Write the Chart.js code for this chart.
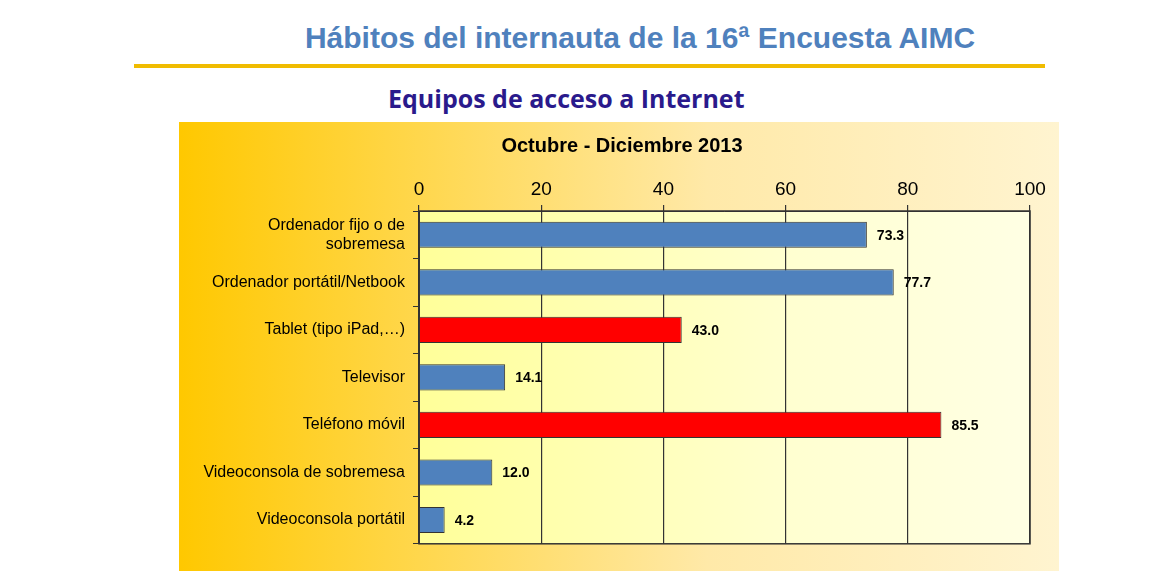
<!DOCTYPE html><html><head><meta charset="utf-8">
<script src="https://cdn.jsdelivr.net/npm/chart.js@4"></script>
<style>
body{margin:0;width:1172px;height:586px;background:#fff;position:relative;font-family:"Liberation Sans",Arial,sans-serif;overflow:hidden}
#t1{position:absolute;left:0;width:1280px;top:21px;text-align:center;font-size:30px;font-weight:bold;color:#4f81bd}
#line{position:absolute;left:134px;top:64px;width:911px;height:4px;background:#f0bc00}
#t2{position:absolute;left:388px;top:81px;font-size:25px;font-weight:bold;color:#2a1a8c;font-family:"Open Sans","Liberation Sans",sans-serif}
#panel{position:absolute;left:179px;top:122px;width:880px;height:449px;background:linear-gradient(to right,#ffc800,#ffe9a8 60%,#fff4d0)}
</style></head><body>
<div id="t1">Hábitos del internauta de la 16ª Encuesta AIMC</div>
<div id="line"></div>
<div id="t2">Equipos de acceso a Internet</div>
<div id="panel"><canvas id="c" width="880" height="449"></canvas></div>
<script>
const categories=[["Ordenador fijo o de","sobremesa"],"Ordenador portátil/Netbook","Tablet (tipo iPad,…)","Televisor","Teléfono móvil","Videoconsola de sobremesa","Videoconsola portátil"];
const values=[73.3,77.7,43.0,14.1,85.5,12.0,4.2];
const colors=["#4f81bd","#4f81bd","#ff0000","#4f81bd","#ff0000","#4f81bd","#4f81bd"];
const chartTitle="Octubre - Diciembre 2013";
const bg={id:'bg',beforeDraw(c){const a=c.chartArea,x=c.ctx;const g=x.createLinearGradient(a.left,0,a.right,0);g.addColorStop(0,'#ffff99');g.addColorStop(0.6,'#ffffd0');g.addColorStop(1,'#ffffe4');x.fillStyle=g;x.fillRect(a.left,a.top,a.right-a.left,a.bottom-a.top);
x.save();x.fillStyle='#000';x.font='bold 20px "Liberation Sans",Arial';x.textAlign='center';x.textBaseline='middle';x.fillText(chartTitle,443,24);x.restore();},
afterDatasetsDraw(c){const x=c.ctx,a=c.chartArea;x.save();x.strokeStyle='#333';x.lineWidth=1.5;x.strokeRect(a.left,a.top,a.right-a.left,a.bottom-a.top);
x.fillStyle='#000';x.font='bold 14px "Liberation Sans",Arial';x.textBaseline='middle';
c.getDatasetMeta(0).data.forEach((b,i)=>{x.fillText(values[i].toFixed(1),b.x+10,b.y+1);});x.restore();}};
new Chart(document.getElementById('c'),{type:'bar',data:{labels:categories,datasets:[{data:values,backgroundColor:colors,borderColor:'#333',borderWidth:1,barPercentage:0.55,categoryPercentage:1}]},
options:{indexAxis:'y',responsive:false,animation:false,layout:{padding:{top:0,right:29,bottom:20,left:0}},
plugins:{legend:{display:false},tooltip:{enabled:false}},
scales:{x:{position:'top',min:0,max:100,ticks:{stepSize:20,color:'#000',font:{size:19,family:'"Liberation Sans",Arial'},padding:4},
grid:{color:'#333',lineWidth:1.2,tickLength:6,tickColor:'#333'},border:{color:'#333'},afterFit(s){s.height=89;}},
y:{ticks:{color:'#000',font:{size:16,family:'"Liberation Sans",Arial'},padding:8},grid:{drawOnChartArea:false,tickLength:6,color:'#333'},border:{color:'#333'},afterFit(s){s.width=240;}}}},plugins:[bg]});
</script></body></html>
